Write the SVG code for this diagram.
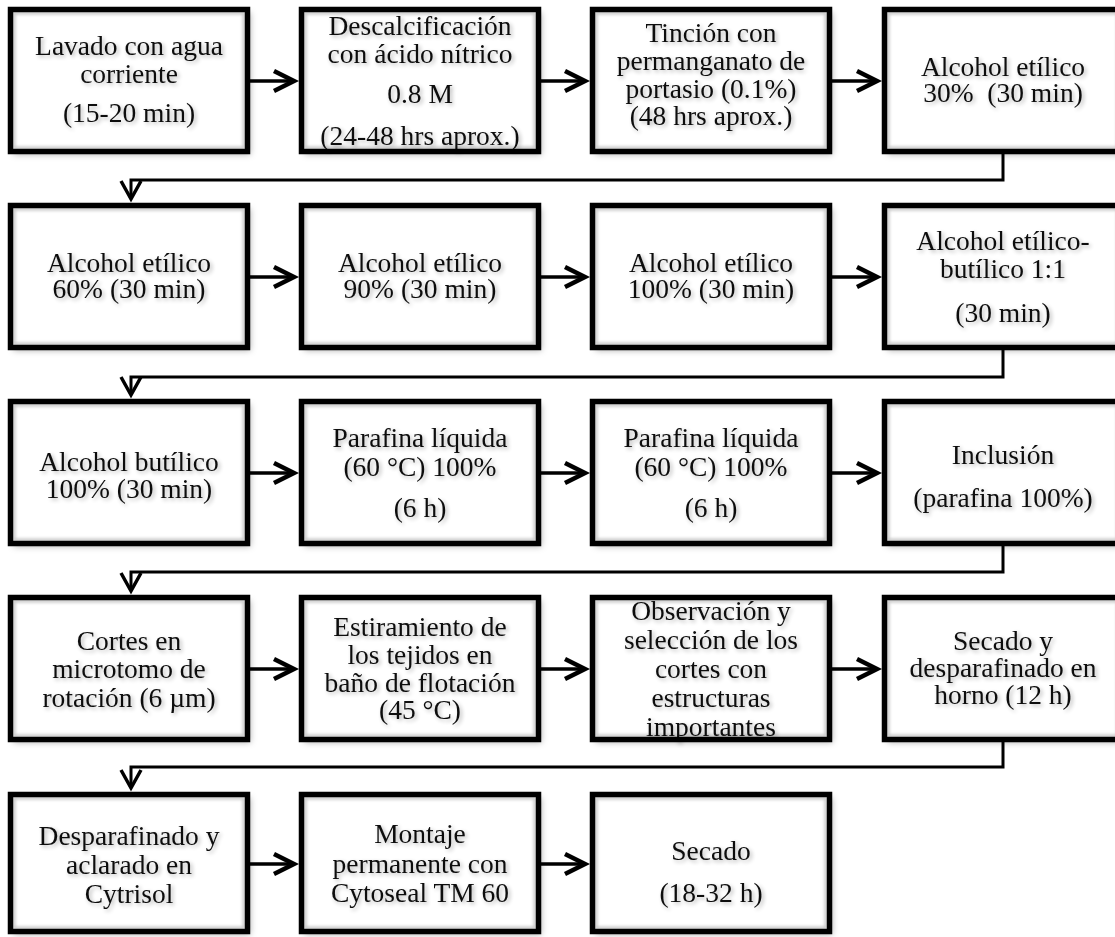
<svg xmlns="http://www.w3.org/2000/svg" width="1115" height="937" viewBox="0 0 1115 937">
<style>
.bg{fill:#fff;filter:url(#drop)}
.in{fill:none;stroke:#c4c4c4;stroke-width:3;filter:url(#soft)}
.bd{fill:none;stroke:#000;stroke-width:5.5}
.t{font-family:"Liberation Serif","Times New Roman",serif;font-size:27.5px;fill:#111;text-anchor:middle;filter:url(#tsh)}
.arr{fill:none;stroke:#000;stroke-width:3.5;marker-end:url(#chev)}
.con{fill:none;stroke:#000;stroke-width:3;marker-end:url(#vee)}
</style>
<defs>
<filter id="drop" x="-10%" y="-10%" width="125%" height="125%">
<feDropShadow dx="3" dy="3" stdDeviation="3" flood-color="#000" flood-opacity="0.3"/>
</filter>
<filter id="soft" x="-5%" y="-5%" width="110%" height="110%">
<feGaussianBlur stdDeviation="1.5"/>
</filter>
<filter id="tsh" x="-10%" y="-30%" width="130%" height="170%">
<feGaussianBlur in="SourceAlpha" stdDeviation="2"/>
<feOffset dx="2" dy="2"/>
<feComponentTransfer><feFuncA type="linear" slope="0.3"/></feComponentTransfer>
<feMerge><feMergeNode/><feMergeNode in="SourceGraphic"/></feMerge>
</filter>
<marker id="chev" markerUnits="userSpaceOnUse" viewBox="-2 -2 26 24" refX="20" refY="10" markerWidth="26" markerHeight="24" orient="auto" overflow="visible">
<path d="M0,0 L20,10 L0,20" fill="none" stroke="#000" stroke-width="4.5"/>
</marker>
<marker id="vee" markerUnits="userSpaceOnUse" viewBox="-2 -2 24 24" refX="18" refY="10" markerWidth="24" markerHeight="24" orient="auto" overflow="visible">
<path d="M0,0 L18,10 L0,20" fill="none" stroke="#000" stroke-width="3.5"/>
</marker>
</defs>
<rect width="1115" height="937" fill="#fff"/>

<g id="connectors">
<path class="arr" d="M250,81 H294"/>
<path class="arr" d="M541,81 H585"/>
<path class="arr" d="M832,81 H877"/>
<path class="arr" d="M250,277 H294"/>
<path class="arr" d="M541,277 H585"/>
<path class="arr" d="M832,277 H877"/>
<path class="arr" d="M250,473 H294"/>
<path class="arr" d="M541,473 H585"/>
<path class="arr" d="M832,473 H877"/>
<path class="arr" d="M250,669 H294"/>
<path class="arr" d="M541,669 H585"/>
<path class="arr" d="M832,669 H877"/>
<path class="arr" d="M250,864 H294"/>
<path class="arr" d="M541,864 H585"/>
<path class="con" d="M1003,154 V180 H131 V199"/>
<path class="con" d="M1003,350 V377 H131 V395"/>
<path class="con" d="M1003,546 V572 H131 V591"/>
<path class="con" d="M1003,742 V767 H131 V788"/>
</g>

<g id="n1">
<rect class="bg" x="10.5" y="9.5" width="237" height="142"/><rect class="in" x="14" y="13" width="230" height="135"/>
<text class="t"><tspan x="129" y="55">Lavado con agua</tspan><tspan x="129" y="83">corriente</tspan><tspan x="129" y="122">(15-20 min)</tspan></text>
<rect class="bd" x="10.5" y="9.5" width="237" height="142"/>
</g>
<g id="n2">
<rect class="bg" x="301.5" y="9.5" width="237" height="142"/><rect class="in" x="305" y="13" width="230" height="135"/>
<text class="t"><tspan x="420" y="35">Descalcificación</tspan><tspan x="420" y="63">con ácido nítrico</tspan><tspan x="420" y="103">0.8 M</tspan><tspan x="420" y="145">(24-48 hrs aprox.)</tspan></text>
<rect class="bd" x="301.5" y="9.5" width="237" height="142"/>
</g>
<g id="n3">
<rect class="bg" x="592.5" y="9.5" width="237" height="142"/><rect class="in" x="596" y="13" width="230" height="135"/>
<text class="t"><tspan x="711" y="42">Tinción con</tspan><tspan x="711" y="70">permanganato de</tspan><tspan x="711" y="98">portasio (0.1%)</tspan><tspan x="711" y="125">(48 hrs aprox.)</tspan></text>
<rect class="bd" x="592.5" y="9.5" width="237" height="142"/>
</g>
<g id="n4">
<rect class="bg" x="884.5" y="9.5" width="237" height="142"/><rect class="in" x="888" y="13" width="230" height="135"/>
<text class="t" xml:space="preserve"><tspan x="1003" y="76">Alcohol etílico</tspan><tspan x="1003" y="102">30%  (30 min)</tspan></text>
<rect class="bd" x="884.5" y="9.5" width="237" height="142"/>
</g>

<g id="n5">
<rect class="bg" x="10.5" y="205.5" width="237" height="142"/><rect class="in" x="14" y="209" width="230" height="135"/>
<text class="t"><tspan x="129" y="272">Alcohol etílico</tspan><tspan x="129" y="298">60% (30 min)</tspan></text>
<rect class="bd" x="10.5" y="205.5" width="237" height="142"/>
</g>
<g id="n6">
<rect class="bg" x="301.5" y="205.5" width="237" height="142"/><rect class="in" x="305" y="209" width="230" height="135"/>
<text class="t"><tspan x="420" y="272">Alcohol etílico</tspan><tspan x="420" y="298">90% (30 min)</tspan></text>
<rect class="bd" x="301.5" y="205.5" width="237" height="142"/>
</g>
<g id="n7">
<rect class="bg" x="592.5" y="205.5" width="237" height="142"/><rect class="in" x="596" y="209" width="230" height="135"/>
<text class="t"><tspan x="711" y="272">Alcohol etílico</tspan><tspan x="711" y="298">100% (30 min)</tspan></text>
<rect class="bd" x="592.5" y="205.5" width="237" height="142"/>
</g>
<g id="n8">
<rect class="bg" x="884.5" y="205.5" width="237" height="142"/><rect class="in" x="888" y="209" width="230" height="135"/>
<text class="t"><tspan x="1003" y="250">Alcohol etílico-</tspan><tspan x="1003" y="278">butílico 1:1</tspan><tspan x="1003" y="322">(30 min)</tspan></text>
<rect class="bd" x="884.5" y="205.5" width="237" height="142"/>
</g>

<g id="n9">
<rect class="bg" x="10.5" y="401.5" width="237" height="142"/><rect class="in" x="14" y="405" width="230" height="135"/>
<text class="t"><tspan x="129" y="471">Alcohol butílico</tspan><tspan x="129" y="498">100% (30 min)</tspan></text>
<rect class="bd" x="10.5" y="401.5" width="237" height="142"/>
</g>
<g id="n10">
<rect class="bg" x="301.5" y="401.5" width="237" height="142"/><rect class="in" x="305" y="405" width="230" height="135"/>
<text class="t"><tspan x="420" y="447">Parafina líquida</tspan><tspan x="420" y="476">(60 °C) 100%</tspan><tspan x="420" y="517">(6 h)</tspan></text>
<rect class="bd" x="301.5" y="401.5" width="237" height="142"/>
</g>
<g id="n11">
<rect class="bg" x="592.5" y="401.5" width="237" height="142"/><rect class="in" x="596" y="405" width="230" height="135"/>
<text class="t"><tspan x="711" y="447">Parafina líquida</tspan><tspan x="711" y="476">(60 °C) 100%</tspan><tspan x="711" y="517">(6 h)</tspan></text>
<rect class="bd" x="592.5" y="401.5" width="237" height="142"/>
</g>
<g id="n12">
<rect class="bg" x="884.5" y="401.5" width="237" height="142"/><rect class="in" x="888" y="405" width="230" height="135"/>
<text class="t"><tspan x="1003" y="464">Inclusión</tspan><tspan x="1003" y="507">(parafina 100%)</tspan></text>
<rect class="bd" x="884.5" y="401.5" width="237" height="142"/>
</g>

<g id="n13">
<rect class="bg" x="10.5" y="597.5" width="237" height="142"/><rect class="in" x="14" y="601" width="230" height="135"/>
<text class="t"><tspan x="129" y="650">Cortes en</tspan><tspan x="129" y="678">microtomo de</tspan><tspan x="129" y="707">rotación (6 µm)</tspan></text>
<rect class="bd" x="10.5" y="597.5" width="237" height="142"/>
</g>
<g id="n14">
<rect class="bg" x="301.5" y="597.5" width="237" height="142"/><rect class="in" x="305" y="601" width="230" height="135"/>
<text class="t"><tspan x="420" y="636">Estiramiento de</tspan><tspan x="420" y="664">los tejidos en</tspan><tspan x="420" y="692">baño de flotación</tspan><tspan x="420" y="719">(45 °C)</tspan></text>
<rect class="bd" x="301.5" y="597.5" width="237" height="142"/>
</g>
<g id="n15">
<rect class="bg" x="592.5" y="597.5" width="237" height="142"/><rect class="in" x="596" y="601" width="230" height="135"/>
<text class="t"><tspan x="711" y="620">Observación y</tspan><tspan x="711" y="649">selección de los</tspan><tspan x="711" y="678">cortes con</tspan><tspan x="711" y="707">estructuras</tspan><tspan x="711" y="736">importantes</tspan></text>
<rect class="bd" x="592.5" y="597.5" width="237" height="142"/>
</g>
<g id="n16">
<rect class="bg" x="884.5" y="597.5" width="237" height="142"/><rect class="in" x="888" y="601" width="230" height="135"/>
<text class="t"><tspan x="1003" y="650">Secado y</tspan><tspan x="1003" y="677">desparafinado en</tspan><tspan x="1003" y="704">horno (12 h)</tspan></text>
<rect class="bd" x="884.5" y="597.5" width="237" height="142"/>
</g>

<g id="n17">
<rect class="bg" x="10.5" y="794.5" width="237" height="137"/><rect class="in" x="14" y="798" width="230" height="130"/>
<text class="t"><tspan x="129" y="845">Desparafinado y</tspan><tspan x="129" y="874">aclarado en</tspan><tspan x="129" y="903">Cytrisol</tspan></text>
<rect class="bd" x="10.5" y="794.5" width="237" height="137"/>
</g>
<g id="n18">
<rect class="bg" x="301.5" y="794.5" width="237" height="137"/><rect class="in" x="305" y="798" width="230" height="130"/>
<text class="t"><tspan x="420" y="843">Montaje</tspan><tspan x="420" y="873">permanente con</tspan><tspan x="420" y="902">Cytoseal TM 60</tspan></text>
<rect class="bd" x="301.5" y="794.5" width="237" height="137"/>
</g>
<g id="n19">
<rect class="bg" x="592.5" y="794.5" width="237" height="137"/><rect class="in" x="596" y="798" width="230" height="130"/>
<text class="t"><tspan x="711" y="860">Secado</tspan><tspan x="711" y="902">(18-32 h)</tspan></text>
<rect class="bd" x="592.5" y="794.5" width="237" height="137"/>
</g>
</svg>
